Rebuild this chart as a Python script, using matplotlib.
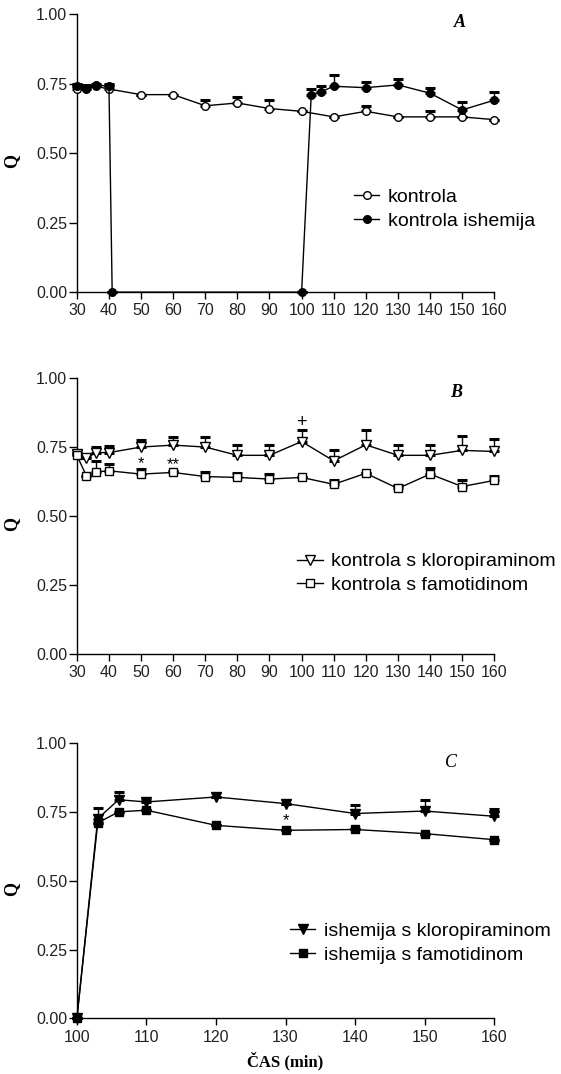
import numpy as np
import matplotlib.pyplot as plt

plt.rcParams['font.family'] = ['Liberation Sans', 'DejaVu Sans']

### Panel A data ###
a_time = [30, 33, 36, 40, 50, 60, 70, 80, 90, 100, 110, 120, 130, 140, 150, 160]
a_kontrola = [0.73, 0.73, 0.74, 0.73, 0.71, 0.71, 0.67, 0.68, 0.66, 0.65, 0.63, 0.65, 0.63, 0.63, 0.63, 0.62]
a_kontrola_err = [0.01, 0.01, 0.0, 0.015, 0.0, 0.0, 0.02, 0.02, 0.03, 0.0, 0.0, 0.02, 0.0, 0.02, 0.0, 0.0]

a_isch_time = [30, 33, 36, 40, 41, 100, 103, 106, 110, 120, 130, 140, 150, 160]
a_isch = [0.74, 0.735, 0.745, 0.74, 0.0, 0.0, 0.71, 0.72, 0.74, 0.735, 0.745, 0.715, 0.655, 0.69]
a_isch_err = [0.01, 0.01, 0.005, 0.01, 0.0, 0.0, 0.02, 0.02, 0.04, 0.02, 0.02, 0.018, 0.027, 0.03]

### Panel B data ###
b_time = [30, 33, 36, 40, 50, 60, 70, 80, 90, 100, 110, 120, 130, 140, 150, 160]
b_klor = [0.725, 0.71, 0.73, 0.73, 0.75, 0.757, 0.75, 0.72, 0.72, 0.77, 0.70, 0.758, 0.72, 0.72, 0.738, 0.734]
b_klor_err = [0.01, 0.005, 0.02, 0.025, 0.026, 0.028, 0.035, 0.038, 0.038, 0.04, 0.04, 0.052, 0.038, 0.038, 0.052, 0.046]
b_famo = [0.72, 0.645, 0.66, 0.664, 0.652, 0.658, 0.643, 0.64, 0.634, 0.64, 0.615, 0.655, 0.60, 0.652, 0.607, 0.629]
b_famo_err = [0.01, 0.0, 0.038, 0.026, 0.018, 0.006, 0.015, 0.015, 0.018, 0.0, 0.014, 0.0, 0.013, 0.022, 0.024, 0.017]

### Panel C data ###
c_time = [100, 103, 106, 110, 120, 130, 140, 150, 160]
c_klor = [0.0, 0.725, 0.794, 0.786, 0.804, 0.78, 0.744, 0.753, 0.734]
c_klor_err = [0.0, 0.039, 0.028, 0.006, 0.0, 0.0, 0.03, 0.041, 0.028]
c_famo = [0.0, 0.71, 0.75, 0.756, 0.701, 0.683, 0.686, 0.671, 0.649]
c_famo_err = [0.0, 0.0, 0.0, 0.0, 0.0, 0.0, 0.0, 0.0, 0.0]

y_ticks = [0.0, 0.25, 0.5, 0.75, 1.0]

fig = plt.figure(figsize=(5.61, 10.74), dpi=100)
left, width = 0.137, 0.744
ax_a = fig.add_axes([left, 0.728, width, 0.259])
ax_b = fig.add_axes([left, 0.391, width, 0.257])
ax_c = fig.add_axes([left, 0.0517, width, 0.2565])


def series(ax, x, y, err, marker, mfc, label, ms):
    x = np.array(x)
    y = np.array(y)
    err = np.array(err)
    ax.errorbar(x, y, yerr=[np.zeros_like(err), err], fmt='none', ecolor='black',
                elinewidth=1.0, capsize=3.6, capthick=2.2, zorder=2, clip_on=False)
    ax.plot(x, y, color='black', lw=1.0, marker=marker, ms=ms, mfc=mfc, mec='black',
            mew=1.0, label=label, zorder=3, clip_on=False)


def style(ax, xticks, xlim):
    ax.set_xlim(xlim)
    ax.set_ylim(0, 1)
    ax.set_xticks(xticks)
    ax.set_yticks(y_ticks)
    ax.set_yticklabels(['0.00', '0.25', '0.50', '0.75', '1.00'])
    for s in ['top', 'right']:
        ax.spines[s].set_visible(False)
    for s in ['left', 'bottom']:
        ax.spines[s].set_linewidth(1.0)
    ax.tick_params(axis='y', direction='out', length=6, width=1.0, pad=1,
                   labelsize=11.5, colors='black', labelcolor='#222222')
    ax.tick_params(axis='x', direction='out', length=5, width=1.0, pad=3,
                   labelsize=11.5, colors='black', labelcolor='#222222')
    ax.set_ylabel('Q', family='Liberation Serif', fontweight='bold', fontsize=13, rotation=90)
    ax.yaxis.set_label_coords(-0.135, 0.47)


def leg(ax, x, y):
    ax.legend(loc='center left', bbox_to_anchor=(x, y), frameon=False, fontsize=14,
              handlelength=1.3, handletextpad=0.45, labelspacing=0.32,
              borderpad=0, borderaxespad=0)


# Panel A
series(ax_a, a_time, a_kontrola, a_kontrola_err, 'o', 'white', 'kontrola', 5.5)
series(ax_a, a_isch_time, a_isch, a_isch_err, 'o', 'black', 'kontrola ishemija', 5.5)
style(ax_a, np.arange(30, 161, 10), (30, 160))
leg(ax_a, 0.664, 0.298)
ax_a.text(0.918, 0.969, 'A', transform=ax_a.transAxes, family='Liberation Serif',
          fontweight='bold', fontstyle='italic', fontsize=13, ha='center', va='center')

# Panel B
series(ax_b, b_time, b_klor, b_klor_err, 'v', 'white', 'kontrola s kloropiraminom', 6.5)
series(ax_b, b_time, b_famo, b_famo_err, 's', 'white', 'kontrola s famotidinom', 6)
style(ax_b, np.arange(30, 161, 10), (30, 160))
leg(ax_b, 0.528, 0.292)
ax_b.text(0.909, 0.946, 'B', transform=ax_b.transAxes, family='Liberation Serif',
          fontweight='bold', fontstyle='italic', fontsize=13, ha='center', va='center')
ax_b.text(50, 0.69, '*', fontsize=12, ha='center', va='center')
ax_b.text(60, 0.686, '**', fontsize=12, ha='center', va='center')
ax_b.text(100, 0.84, '+', fontsize=13, ha='center', va='center')

# Panel C
series(ax_c, c_time, c_klor, c_klor_err, 'v', 'black', 'ishemija s kloropiraminom', 6.5)
series(ax_c, c_time, c_famo, c_famo_err, 's', 'black', 'ishemija s famotidinom', 6)
style(ax_c, np.arange(100, 161, 10), (100, 160))
leg(ax_c, 0.511, 0.273)
ax_c.text(0.897, 0.931, 'C', transform=ax_c.transAxes, family='Liberation Serif',
          fontstyle='italic', fontsize=13, ha='center', va='center')
ax_c.text(130, 0.72, '*', fontsize=12, ha='center', va='center')
ax_c.set_xlabel('ČAS (min)', family='Liberation Serif', fontweight='bold', fontsize=12, labelpad=5)

fig.savefig('out.png', dpi=100)
